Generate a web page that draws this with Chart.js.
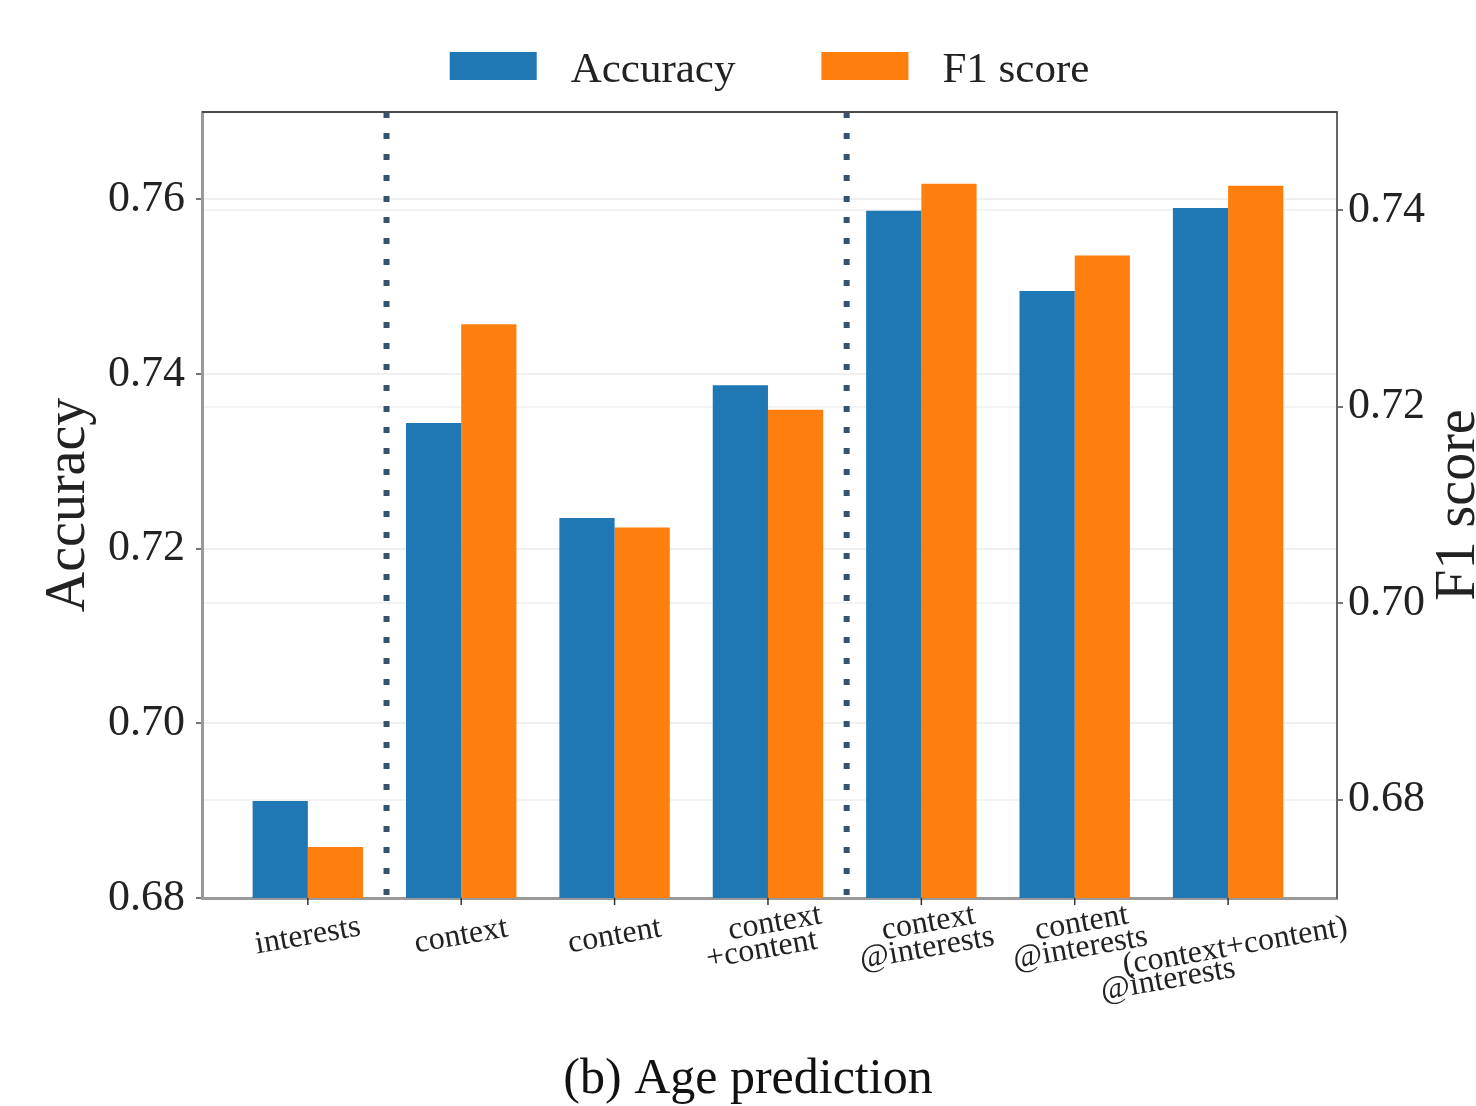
<!DOCTYPE html>
<html lang="en">
<head>
<meta charset="UTF-8">
<title>Age prediction</title>
<script src="https://cdn.jsdelivr.net/npm/chart.js"></script>
<style>
  html, body { margin: 0; padding: 0; background: #fff; }
  #wrap { width: 1476px; height: 1106px; position: relative; }
</style>
</head>
<body>
<div id="wrap"><canvas id="ageChart"></canvas></div>
<script>
// groups on the x axis (multi-line labels)
const categories = [
  ['interests'],
  ['context'],
  ['content'],
  ['context', '+content'],
  ['context', '@interests'],
  ['content', '@interests'],
  ['(context+content)', '@interests']
];
const accuracy = [0.6911, 0.7344, 0.7235, 0.7387, 0.7587, 0.7495, 0.7590];
const f1Score = [0.6752, 0.7284, 0.7077, 0.7197, 0.7427, 0.7354, 0.7425];
const accuracyTicks = [0.68, 0.70, 0.72, 0.74, 0.76];
const f1Ticks = [0.68, 0.70, 0.72, 0.74];
const separators = [0.5, 3.5];
const chartTitle = '(b) Age prediction';

const SERIF = '"Liberation Serif", "Times New Roman", serif';
Chart.defaults.font.family = SERIF;

const toPoints = arr => arr.map((v, i) => ({ x: i, y: v }));

// extra drawing: separators, top spine, x labels, legend, axis titles, caption
const extras = {
  id: 'extras',
  afterDraw(chart) {
    const ctx = chart.ctx;
    const area = chart.chartArea;
    const xs = chart.scales.x;

    ctx.save();

    // dotted separators between feature families
    ctx.strokeStyle = '#35536f';
    ctx.lineWidth = 6;
    ctx.setLineDash([6, 15]);
    separators.forEach(v => {
      const px = xs.getPixelForValue(v) + 2;
      ctx.beginPath();
      ctx.moveTo(px, area.top);
      ctx.lineTo(px, area.bottom);
      ctx.stroke();
    });
    ctx.setLineDash([]);

    // top spine
    ctx.strokeStyle = '#4a4a4a';
    ctx.lineWidth = 2;
    ctx.beginPath();
    ctx.moveTo(area.left, area.top);
    ctx.lineTo(area.right, area.top);
    ctx.stroke();

    // x tick marks
    ctx.strokeStyle = '#333';
    ctx.lineWidth = 1.5;
    categories.forEach((c, i) => {
      const px = xs.getPixelForValue(i);
      ctx.beginPath();
      ctx.moveTo(px, area.bottom);
      ctx.lineTo(px, area.bottom + 7);
      ctx.stroke();
    });

    // rotated x labels
    const ang = 10 * Math.PI / 180;
    ctx.font = '32px ' + SERIF;
    ctx.fillStyle = '#222';
    ctx.textAlign = 'center';
    ctx.textBaseline = 'middle';
    categories.forEach((lines, i) => {
      const px = xs.getPixelForValue(i);
      const w1 = ctx.measureText(lines[0]).width;
      let cx1 = px, cy1 = area.bottom + 38;
      if (lines.length > 1) {
        cx1 = px + 7;
        cy1 = area.bottom + 25 + Math.max(0, w1 - 110) * 0.2;
      }
      const drawLine = (t, cx, cy) => {
        ctx.save();
        ctx.translate(cx, cy);
        ctx.rotate(-ang);
        ctx.fillText(t, 0, 0);
        ctx.restore();
      };
      drawLine(lines[0], cx1, cy1);
      if (lines.length > 1) {
        const w2 = ctx.measureText(lines[1]).width;
        const left1 = cx1 - (w1 / 2) * Math.cos(ang);
        const cx2 = left1 - 22 + (w2 / 2) * Math.cos(ang);
        const cy2 = cy1 + 28 + (w1 - w2) * 0.06;
        drawLine(lines[1], cx2, cy2);
      }
    });

    // legend
    ctx.font = '43px ' + SERIF;
    ctx.textAlign = 'left';
    ctx.textBaseline = 'alphabetic';
    const boxW = 87, boxH = 28, gapText = 34, gapItem = 86;
    const items = chart.data.datasets.map(ds => ({
      label: ds.label, color: ds.backgroundColor, w: ctx.measureText(ds.label).width
    }));
    let total = gapItem * (items.length - 1);
    items.forEach(it => { total += boxW + gapText + it.w; });
    let lx = (area.left + area.right) / 2 - total / 2;
    items.forEach(it => {
      ctx.fillStyle = it.color;
      ctx.fillRect(lx, 52, boxW, boxH);
      ctx.fillStyle = '#222';
      ctx.fillText(it.label, lx + boxW + gapText, 82);
      lx += boxW + gapText + it.w + gapItem;
    });

    // axis titles (both read bottom to top)
    ctx.font = '56px ' + SERIF;
    ctx.fillStyle = '#222';
    ctx.textAlign = 'center';
    const midY = (area.top + area.bottom) / 2;
    [['Accuracy', 84], ['F1 score', 1474]].forEach(([t, bx]) => {
      ctx.save();
      ctx.translate(bx, midY);
      ctx.rotate(-Math.PI / 2);
      ctx.fillText(t, 0, 0);
      ctx.restore();
    });

    // caption
    ctx.font = '50px ' + SERIF;
    ctx.fillStyle = '#111';
    ctx.fillText(chartTitle, 748, 1093);

    ctx.restore();
  }
};

new Chart(document.getElementById('ageChart'), {
  type: 'bar',
  data: {
    datasets: [
      {
        label: 'Accuracy',
        data: toPoints(accuracy),
        backgroundColor: '#1f77b4',
        borderWidth: 0,
        yAxisID: 'y'
      },
      {
        label: 'F1 score',
        data: toPoints(f1Score),
        backgroundColor: '#ff7f0e',
        borderWidth: 0,
        yAxisID: 'y1'
      }
    ]
  },
  options: {
    responsive: true,
    maintainAspectRatio: false,
    animation: false,
    layout: { padding: { top: 112, left: 0, right: 0, bottom: 0 } },
    categoryPercentage: 0.72,
    barPercentage: 1.0,
    plugins: {
      legend: { display: false },
      tooltip: { enabled: false }
    },
    scales: {
      x: {
        type: 'linear',
        offset: false,
        min: -0.69,
        max: 6.71,
        afterBuildTicks: s => { s.ticks = categories.map((c, i) => ({ value: i })); },
        grid: { display: false },
        ticks: { display: false },
        border: { color: '#999', width: 3 },
        afterFit: s => { s.height = 208; }
      },
      y: {
        position: 'left',
        min: 0.68,
        max: 0.77,
        afterBuildTicks: s => { s.ticks = accuracyTicks.map(v => ({ value: v })); },
        ticks: {
          callback: v => v.toFixed(2),
          font: { size: 44 },
          color: '#222',
          padding: 11
        },
        grid: { color: '#efefef', lineWidth: 2, tickColor: '#444', tickLength: 6, tickWidth: 1.5 },
        border: { color: '#999', width: 3 },
        afterFit: s => { s.width = 202; }
      },
      y1: {
        position: 'right',
        min: 0.67,
        max: 0.75,
        afterBuildTicks: s => { s.ticks = f1Ticks.map(v => ({ value: v })); },
        ticks: {
          callback: v => v.toFixed(2),
          font: { size: 44 },
          color: '#222',
          padding: 5
        },
        grid: { color: '#f3f3f3', lineWidth: 2, tickColor: '#444', tickLength: 6, tickWidth: 1.5 },
        border: { color: '#666', width: 2 },
        afterFit: s => { s.width = 139; }
      }
    }
  },
  plugins: [extras]
});
</script>
</body>
</html>
